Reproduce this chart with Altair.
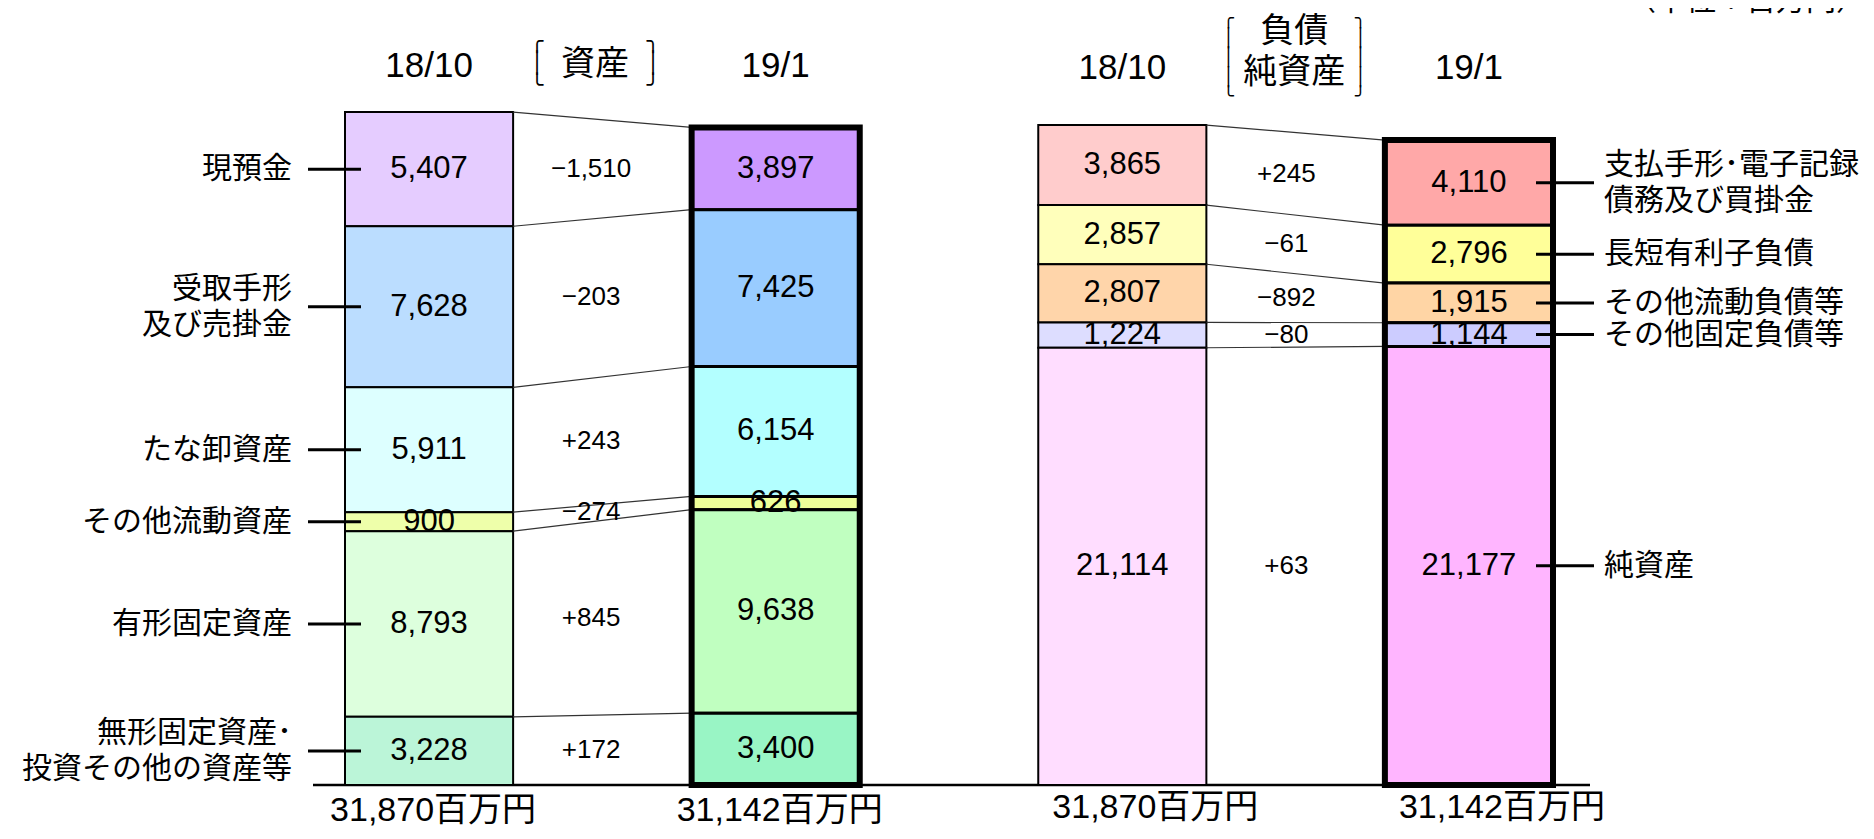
import altair as alt
import pandas as pd

# ---------------- data ----------------
periods = ["18/10", "19/1"]
bar_keys = ["資産 18/10", "資産 19/1", "負債純資産 18/10", "負債純資産 19/1"]
side_titles = ["資産", "負債\n純資産"]
unit_note = "（単位：百万円）"
totals_1810 = 31870
totals_1901 = 31142

asset_items = ["現預金", "受取手形\n及び売掛金", "たな卸資産", "その他流動資産",
               "有形固定資産", "無形固定資産･\n投資その他の資産等"]
asset_1810 = [5407, 7628, 5911, 900, 8793, 3228]
asset_1901 = [3897, 7425, 6154, 626, 9638, 3400]
asset_colors_1810 = ["#E5CCFF", "#BBDDFF", "#DDFFFF", "#EEFFAA", "#DDFFDD", "#BBF5D8"]
asset_colors_1901 = ["#CC99FF", "#99CCFF", "#B3FFFF", "#EEFF99", "#C0FFC0", "#99F5C5"]

liab_items = ["支払手形･電子記録\n債務及び買掛金", "長短有利子負債", "その他流動負債等",
              "その他固定負債等", "純資産"]
liab_1810 = [3865, 2857, 2807, 1224, 21114]
liab_1901 = [4110, 2796, 1915, 1144, 21177]
liab_colors_1810 = ["#FFCCCC", "#FFFFBB", "#FFD5AA", "#DDDDFF", "#FFDDFF"]
liab_colors_1901 = ["#FFA8A8", "#FFFF99", "#FFD5A5", "#CCCCFF", "#FFB5FF"]

# ---------------- layout / style ----------------
FONT = "Liberation Sans, Noto Sans CJK JP, sans-serif"
BOX_FONT = "DejaVu Sans Mono"
W, H = 1858, 823
xscale = alt.Scale(type="band", domain=bar_keys, range=[337, 1545],
                   paddingInner=0.515, paddingOuter=0)

all_keys, all_cols = [], []
for cat, cols in zip(bar_keys, [asset_colors_1810, asset_colors_1901,
                                liab_colors_1810, liab_colors_1901]):
    for i, c in enumerate(cols):
        all_keys.append(f"{cat}|{i}")
        all_cols.append(c)
color_scale = alt.Scale(domain=all_keys, range=all_cols)


def fmt(v):
    return f"{v:,}"


def fmt_diff(d):
    return f"{d:+,}".replace("-", "−")


def stack(values):
    out, top = [], sum(values)
    for v in values:
        out.append((top - v, top))
        top -= v
    return out


def side_layers(items, v18, v19, catA, catB, ytop, title, labels_left,
                dx_delta, dx_title, br_half, br_size, br_lines, br_lh, y_title, title_lh,
                y_br, y_header, y_total, dx_total):
    ys = alt.Scale(domain=[0, totals_1810], range=[777, ytop], nice=False)
    sA, sB = stack(v18), stack(v19)

    def seg_df(cat, per, vals, st):
        return pd.DataFrame([dict(cat=cat, period=per, key=f"{cat}|{i}", y0=a, y1=b,
                                  mid=(a + b) / 2, txt=fmt(v))
                             for i, (v, (a, b)) in enumerate(zip(vals, st))])

    segA = seg_df(catA, periods[0], v18, sA)
    segB = seg_df(catB, periods[1], v19, sB)
    seg = pd.concat([segA, segB], ignore_index=True)

    conn = pd.DataFrame(dict(catA=catA, catB=catB,
                             ya=[b for a, b in sA], yb=[b for a, b in sB]))
    delta = pd.DataFrame(dict(catA=catA,
                              y=[((a1 + b1) / 2 + (a2 + b2) / 2) / 2
                                 for (a1, b1), (a2, b2) in zip(sA, sB)],
                              txt=[fmt_diff(q - p) for p, q in zip(v18, v19)]))
    frame = pd.DataFrame(dict(cat=[catB], y0=[0], y1=[sum(v19)]))
    lab_seg = segA if labels_left else segB
    labs = pd.DataFrame(dict(cat=lab_seg["cat"].values, y=lab_seg["mid"].values, txt=items))
    labs["n"] = labs["txt"].str.count("\n") + 1
    hdr = pd.DataFrame(dict(cat=[catA, catB], txt=periods))
    tot = pd.DataFrame(dict(cat=[catA, catB],
                            txt=[fmt(totals_1810) + "百万円", fmt(totals_1901) + "百万円"]))
    ttl = pd.DataFrame(dict(cat=[catA], txt=[title]))

    X = lambda f, **kw: alt.X(f, scale=xscale, axis=None, **kw)
    Y = lambda f: alt.Y(f, scale=ys, axis=None)

    layers = []
    for df, sw in [(segA, 2), (segB, 3)]:
        layers.append(alt.Chart(df).mark_bar(stroke="black", strokeWidth=sw).encode(
            x=X("cat:N"), y=Y("y0:Q"), y2="y1:Q",
            color=alt.Color("key:N", scale=color_scale, legend=None)))
    layers.append(alt.Chart(conn).mark_rule(color="#333333", strokeWidth=1.2).encode(
        x=X("catA:N", bandPosition=1), x2=alt.X2("catB:N", bandPosition=0),
        y=Y("ya:Q"), y2="yb:Q"))
    layers.append(alt.Chart(frame).mark_bar(fill="transparent", stroke="black",
                                            strokeWidth=6).encode(
        x=X("cat:N"), y=Y("y0:Q"), y2="y1:Q"))
    layers.append(alt.Chart(seg).mark_text(font=FONT, fontSize=31, baseline="middle",
                                           color="black").encode(
        x=X("cat:N"), y=Y("mid:Q"), text="txt:N"))
    layers.append(alt.Chart(delta).mark_text(font=FONT, fontSize=26, baseline="middle",
                                             dx=dx_delta, color="black").encode(
        x=X("catA:N", bandPosition=1), y=Y("y:Q"), text="txt:N"))
    if labels_left:
        bp, xo, x2o, al, ldx = 0, -37, 16, "right", -53
    else:
        bp, xo, x2o, al, ldx = 1, -17, 41, "left", 51
    layers.append(alt.Chart(labs).mark_rule(color="black", strokeWidth=3,
                                            xOffset=xo, x2Offset=x2o).encode(
        x=X("cat:N", bandPosition=bp), x2=alt.X2("cat:N", bandPosition=bp), y=Y("y:Q")))
    lab_lh = 36
    for n in sorted(labs["n"].unique()):
        sub = labs[labs["n"] == n]
        layers.append(alt.Chart(sub).mark_text(font=FONT, fontSize=30, align=al, dx=ldx,
                                               dy=-(n - 1) * lab_lh / 2,
                                               baseline="middle", lineBreak="\n",
                                               lineHeight=lab_lh, color="black").encode(
            x=X("cat:N", bandPosition=bp), y=Y("y:Q"), text="txt:N"))
    layers.append(alt.Chart(hdr).mark_text(font=FONT, fontSize=35, baseline="middle",
                                           color="black").encode(
        x=X("cat:N"), y=alt.value(y_header), text="txt:N"))
    layers.append(alt.Chart(tot).mark_text(font=FONT, fontSize=34, baseline="middle",
                                           dx=dx_total, color="black").encode(
        x=X("cat:N"), y=alt.value(y_total), text="txt:N"))
    layers.append(alt.Chart(ttl).mark_text(font=FONT, fontSize=34, baseline="middle",
                                           dx=dx_title, lineBreak="\n",
                                           lineHeight=title_lh, color="black").encode(
        x=X("cat:N", bandPosition=1), y=alt.value(y_title), text="txt:N"))
    left_br = "\n".join(["╭"] + ["│"] * (br_lines - 2) + ["╰"])
    right_br = "\n".join(["╮"] + ["│"] * (br_lines - 2) + ["╯"])
    for ch, off in [(left_br, -br_half), (right_br, br_half)]:
        layers.append(alt.Chart(ttl).mark_text(font=BOX_FONT, fontSize=br_size, text=ch,
                                               lineBreak="\n", lineHeight=br_lh,
                                               baseline="middle", dx=dx_title + off,
                                               dy=-(br_lines - 1) * br_lh / 2,
                                               color="black").encode(
            x=X("cat:N", bandPosition=1), y=alt.value(y_br)))
    return layers


base_df = pd.DataFrame(dict(a=[bar_keys[0]], b=[bar_keys[-1]], zero=[0]))
baseline = alt.Chart(base_df).mark_rule(color="black", strokeWidth=2.5,
                                        xOffset=-32, x2Offset=37).encode(
    x=alt.X("a:N", scale=xscale, axis=None, bandPosition=0),
    x2=alt.X2("b:N", bandPosition=1),
    y=alt.Y("zero:Q", scale=alt.Scale(domain=[0, totals_1810], range=[777, 104], nice=False),
            axis=None))

unit = alt.Chart(pd.DataFrame(dict(t=[unit_note]))).mark_text(
    font=FONT, fontSize=30, align="right", baseline="alphabetic", color="black").encode(
    x=alt.value(W), y=alt.value(2), text="t:N")

layers = [baseline]
layers += side_layers(asset_items, asset_1810, asset_1901, bar_keys[0], bar_keys[1],
                      104, side_titles[0], True,
                      dx_delta=78, dx_title=82, br_half=58, br_size=21, br_lines=3, br_lh=22,
                      y_title=57, title_lh=41, y_br=56,
                      y_header=58, y_total=803, dx_total=4)
layers += side_layers(liab_items, liab_1810, liab_1901, bar_keys[2], bar_keys[3],
                      117, side_titles[1], False,
                      dx_delta=80, dx_title=88, br_half=66, br_size=18, br_lines=5, br_lh=19.5,
                      y_title=24, title_lh=41, y_br=50,
                      y_header=60, y_total=800, dx_total=33)
layers.append(unit)

chart = alt.layer(*layers).resolve_scale(y="independent").properties(
    width=W, height=H, autosize=alt.AutoSizeParams(type="none"), padding=0,
    background="white"
).configure_view(strokeWidth=0)

chart.save("out.html", embed_options={"renderer": "svg", "actions": False})
